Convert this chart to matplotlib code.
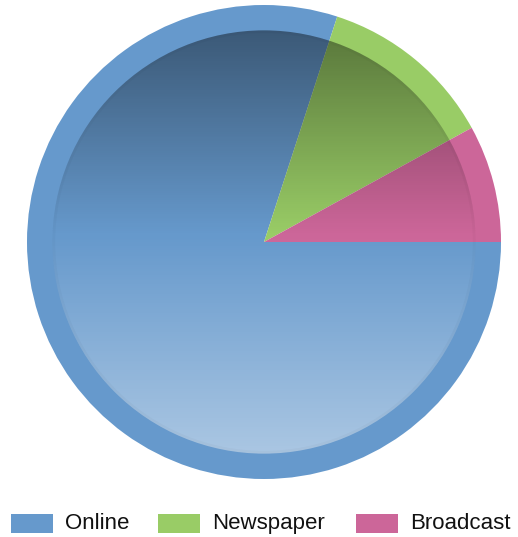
import numpy as np
import matplotlib
matplotlib.use("Agg")
import matplotlib.pyplot as plt
from matplotlib.patches import Circle, Rectangle

categories = ["Online", "Newspaper", "Broadcast"]
values = [80, 12, 8]
colors = ["#6699cc", "#99cc66", "#cc6699"]

W, H = 518, 537
fig = plt.figure(figsize=(W / 100, H / 100), dpi=100)
fig.patch.set_facecolor("white")

cx, cy, R = 264, 242, 237
ax = fig.add_axes([(cx - R) / W, (H - cy - R) / H, 2 * R / W, 2 * R / H])
ax.set_xlim(-1, 1)
ax.set_ylim(-1, 1)
ax.set_aspect("equal")
ax.axis("off")

wedges, _ = ax.pie(values, colors=colors, startangle=0, counterclock=False,
                   radius=1.0, center=(0, 0), frame=False,
                   wedgeprops=dict(linewidth=0, antialiased=True))
ax.set_xlim(-1, 1)
ax.set_ylim(-1, 1)

# inner gradient overlay
r = 0.893
n = 400
t = np.linspace(-0.42, 0.45, n)  # top -> bottom
rgba = np.zeros((n, 2, 4))
for i, v in enumerate(t):
    if v < 0:
        rgba[i, :, :3] = 0.0
        rgba[i, :, 3] = -v
    else:
        rgba[i, :, :3] = 1.0
        rgba[i, :, 3] = v
clip = Circle((0, 0), r, transform=ax.transData, facecolor="none", edgecolor="none")
ax.add_patch(clip)
im = ax.imshow(rgba, extent=[-r, r, -r, r], origin="upper", aspect="auto",
               interpolation="bilinear", zorder=3)
im.set_clip_path(clip)
ax.add_patch(Circle((0, 0), r - 0.006, facecolor="none", edgecolor=(0, 0, 0, 0.025),
                    linewidth=2.0, zorder=4))

# legend
lax = fig.add_axes([0, 0, 1, 1])
lax.set_xlim(0, W)
lax.set_ylim(H, 0)
lax.axis("off")
patch_x = [11, 158, 356]
text_x = [65, 212, 410]
for name, col, px, tx in zip(categories, colors, patch_x, text_x):
    lax.add_patch(Rectangle((px, 514), 42, 19, facecolor=col, edgecolor="none"))
    lax.text(tx, 523.5, name, fontsize=16, family="Liberation Sans",
             va="center", ha="left", color="#111111")

fig.savefig("out.png", dpi=100)
